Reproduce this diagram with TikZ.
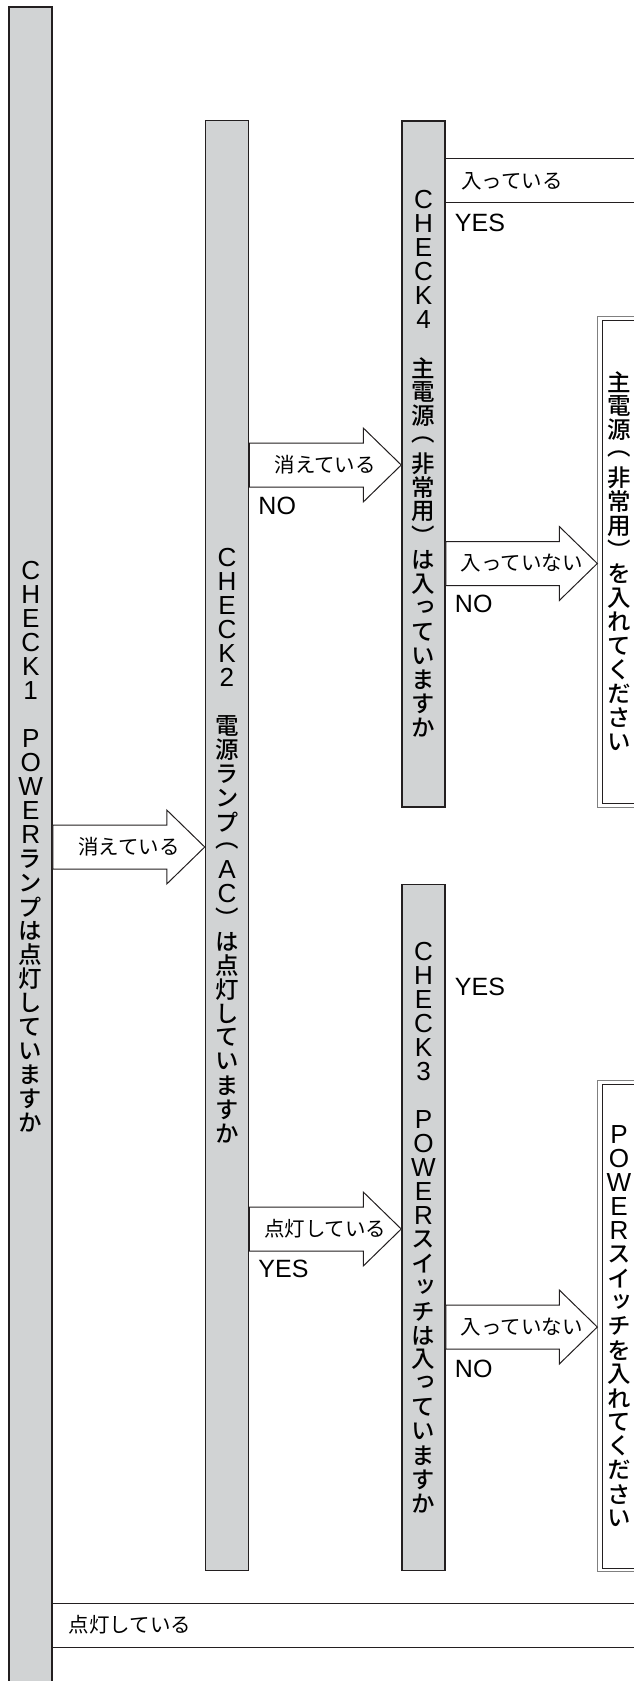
\documentclass[tikz,border=0pt]{standalone}
\usepackage{fontspec}
\setmainfont{Noto Sans CJK JP}
\IfFontExistsTF{Noto Sans CJK JP Medium}
  {\newfontfamily\tatefont{Noto Sans CJK JP Medium}[RawFeature=+vert]}
  {\newfontfamily\tatefont{Noto Sans CJK JP}[RawFeature=+vert, FakeBold=1.5]}
\newfontfamily\latfont{Liberation Sans}
\newfontfamily\latbar{Liberation Sans}[Scale=1.11]
\usepackage{tikz}
\usetikzlibrary{positioning, calc}
\definecolor{grigio}{RGB}{209,211,212}
\definecolor{ink}{RGB}{35,31,32}

% testo verticale
\newlength\tatepitch
\setlength\tatepitch{24bp}
\def\tatestop{}
\newcommand\tate[1]{\vbox{\offinterlineskip\tatenext#1\tatestop}}
\def\tatenext#1{\ifx#1\tatestop\else%
  \hbox to 30bp{\hss\vbox to\tatepitch{\vss\hbox{\ifnum`#1<"2000 \latbar\fi#1}\vss}\hss}%
  \expandafter\tatenext\fi}

% frecce larghe
\newcommand\fatarrow[5]{%
  \draw[bigarrow] (#1.east |- 0,#3-22) -- ($(#2.west |- 0,#3)+(-38,-22)$) -- ++(0,-15)
    -- (#2.west |- 0,#3) -- ($(#2.west |- 0,#3)+(-38,37)$) -- ++(0,-15)
    -- (#1.east |- 0,#3+22) -- cycle;
  \node[lbl] (#4) at ($(#1.east |- 0,#3)!0.5!(#2.west |- 0,#3)$) {#5};}

\begin{document}
\begin{tikzpicture}[x=1bp, y=-1bp,
  bar/.style={draw=ink, line width=1.5bp, fill=grigio, minimum width=43bp, inner sep=0pt,
    font=\tatefont\fontsize{23.5bp}{24bp}\selectfont},
  rbox/.style={draw=gray, line width=0.8bp, minimum width=42.6bp, inner sep=0pt,
    font=\tatefont\fontsize{23.5bp}{24bp}\selectfont},
  bigarrow/.style={draw=ink, line width=1bp, fill=white},
  ybox/.style={draw=ink, line width=1bp, fill=white},
  lbl/.style={inner sep=0pt, font=\fontsize{20.5bp}{20.5bp}\selectfont},
  yn/.style={inner sep=0pt, anchor=west, xshift=9bp, font=\latfont\fontsize{25bp}{25bp}\selectfont}]

\useasboundingbox (0,0) rectangle (634,1681);
\begin{scope}
\clip (0,0) rectangle (634,1681);

% Barre
\node[bar, minimum height=1680bp] (c1) at (30.7,847) {\tate{CHECK1　POWERランプは点灯していますか}};
\node[bar, minimum height=1450bp] (c2) at (227,845.7) {\tate{CHECK2　電源ランプ︵AC︶は点灯していますか}};
\node[bar, minimum height=686bp] (c4) at (423.5,463.9) {\tate{CHECK4　主電源︵非常用︶は入っていますか}};
\node[bar, minimum height=686bp] (c3) at (423.5,1227.5) {\tate{CHECK3　POWERスイッチは入っていますか}};

% Riquadri a destra
\node[rbox, minimum height=490.6bp] (r1) at (619,562) {\tate{主電源︵非常用︶を入れてください}};
\node[rbox, minimum height=491bp] (r2) at (619,1326.2) {\tate{POWERスイッチを入れてください}};
\draw[ink, line width=1bp] ([xshift=4.8bp,yshift=-4bp]r1.north west) rectangle ([xshift=-4.8bp,yshift=4bp]r1.south east);
\draw[ink, line width=1bp] ([xshift=4.8bp,yshift=-4bp]r2.north west) rectangle ([xshift=-4.8bp,yshift=4bp]r2.south east);

% Frecce
\fatarrow{c1}{c2}{847}{a1}{消えている}
\fatarrow{c2}{c4}{465}{a2}{消えている}
\fatarrow{c4}{r1}{563.5}{a3}{入っていない}
\fatarrow{c2}{c3}{1229}{a4}{点灯している}
\fatarrow{c3}{r2}{1327}{a5}{入っていない}

% YES / NO
\node[yn] (n2) at (c2.east |- 0,506) {NO};
\node[yn] (n4) at (c4.east |- 0,604) {NO};
\node[yn] (y2) at (c2.east |- 0,1269) {YES};
\node[yn] (n3) at (c3.east |- 0,1369) {NO};
\node[yn] (y4) at (c4.east |- 0,223) {YES};
\node[yn] (y3) at (c3.east |- 0,987) {YES};

% Uscite SI
\draw[ybox] (c4.east |- 0,158.7) rectangle (660,202.7);
\node[lbl, anchor=west] (t4) at (461,181.5) {入っている};
\draw[ybox] (c1.east |- 0,1603) rectangle (660,1647);
\node[lbl, anchor=west] (t1) at (68.7,1625) {点灯している};

\end{scope}
\end{tikzpicture}
\end{document}
